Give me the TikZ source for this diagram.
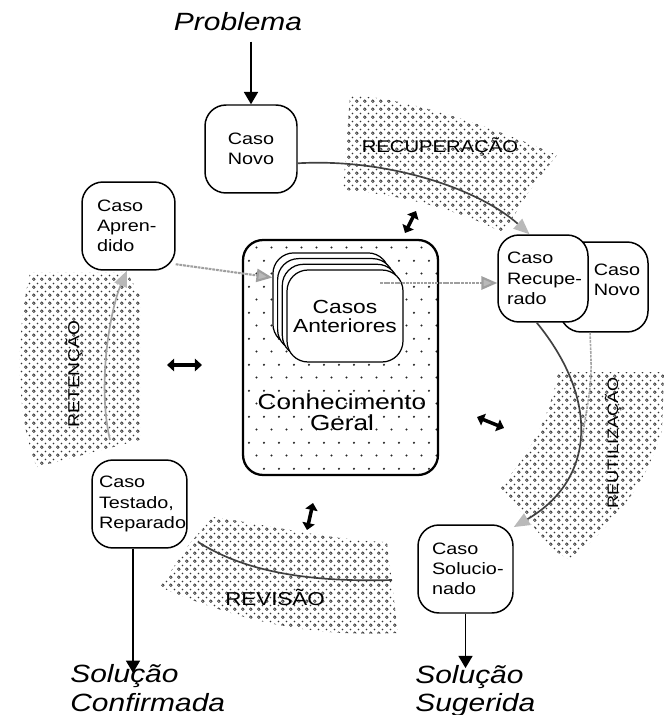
\documentclass[tikz,border=0pt]{standalone}
\usepackage{fontspec}
\setmainfont{Liberation Sans}[FakeStretch=1.2]
\usetikzlibrary{arrows.meta,patterns,patterns.meta}
\tikzdeclarepattern{
  name=bandpat,
  bounding box={(0pt,0pt) and (4.6pt,4.6pt)},
  tile size={(4.6pt,4.6pt)},
  code={
    \draw[line width=0.45pt] (1.15pt,1.15pt) circle (0.8pt);
    \fill (3.45pt,3.45pt) circle (0.55pt);
  }
}
\tikzdeclarepattern{
  name=sparsedots,
  bounding box={(0pt,0pt) and (8.5pt,14.6pt)},
  tile size={(8.5pt,14.6pt)},
  code={
    \fill (2pt,2pt) circle (0.65pt);
    \fill (6.25pt,9.3pt) circle (0.65pt);
  }
}
\begin{document}
\begin{tikzpicture}[x=0.02cm,y=-0.02cm,
  casebox/.style={draw, fill=white, line width=0.85pt, rounded corners=0.42cm,
    font=\fontsize{9.4}{11.5}\selectfont, inner ysep=0pt},
  boxtext/.style={font=\fontsize{9.4}{11.5}\selectfont, align=center, inner sep=0pt},
  stackbox/.style={draw, fill=white, line width=0.7pt, rounded corners=0.42cm,
    minimum width=2.32cm, minimum height=1.84cm, align=center,
    font=\fontsize{10.8}{10.8}\selectfont},
  kbox/.style={draw, line width=1.3pt, rounded corners=0.4cm,
    pattern=sparsedots, pattern color=black!85,
    minimum width=3.9cm, minimum height=4.7cm},
  band/.style={pattern=bandpat, pattern color=black!80},
  graylink/.style={draw=gray!75, line width=1.2pt, dash pattern=on 1.6pt off 0.5pt,
    -{Triangle[length=9pt,width=7.5pt,fill=gray!55]}},
  cycleline/.style={draw=black!75, line width=0.95pt},
  cyclearrow/.style={cycleline, -{Triangle[length=9pt,width=7.5pt,color=gray!55]}},
  outarrow/.style={draw=black, line width=0.9pt, -{Triangle[length=7pt,width=8pt]}},
  klink/.style={draw=black, line width=2pt,
    {Triangle[length=4pt,width=7pt]}-{Triangle[length=4pt,width=7pt]}},
  phase/.style={inner sep=0pt},
  bigital/.style={font=\fontsize{14.2}{16.4}\selectfont\itshape, inner sep=0pt, align=left}
]
\useasboundingbox (0,0) rectangle (664,715);

% shaded bands
\fill[band] (350,95) .. controls (400,98) and (470,118) .. (557,155) -- (530,190) -- (503,233)
  .. controls (470,215) and (410,195) .. (343,190) -- cycle;
\fill[band] (558,372) -- (664,372) -- (662,430) .. controls (650,470) and (630,510) .. (570,560)
  -- (553,550) -- (500,487) .. controls (525,460) and (550,420) .. (558,372) -- cycle;
\fill[band] (213,517) .. controls (270,525) and (330,540) .. (387,542) -- (398,633)
  .. controls (330,636) and (260,630) .. (160,587) -- (190,543) -- cycle;
\fill[band] (30,273) -- (127,273) -- (140,295) -- (140,440) -- (37,467)
  .. controls (20,430) and (12,350) .. (30,273) -- cycle;

% phase labels
\node[phase, font=\fontsize{9.6}{11}\selectfont] (recup) at (440,147) {RECUPERAÇÃO};
\node[phase, font=\fontsize{8.6}{10}\selectfont, rotate=90] (reut) at (613,443) {REUTILIZAÇÃO};
\node[phase, font=\fontsize{9.1}{10}\selectfont, rotate=90] (ret) at (74,374) {RETENÇÃO};
\node[phase, font=\fontsize{10.6}{12}\selectfont] (rev) at (275,597) {REVISÃO};

% central knowledge box
\node[kbox] (geral) at (340.5,357.5) {};
\foreach \k in {3,2,1} {
  \node[stackbox] (ca\k) at ({345-4.7*\k},{316-5.7*\k}) {};
}
\node[stackbox] (ca0) at (345,316) {Casos\\Anteriores};
\node[font=\fontsize{12.4}{12.2}\selectfont, align=center, inner sep=0pt] (geraltxt) at (342,412) {Conhecimento\\Geral};

% case boxes
\node[casebox, minimum width=1.84cm, minimum height=1.76cm, align=center] (novo) at (251,149) {Caso\\Novo};
\node[casebox, minimum width=1.86cm, minimum height=1.76cm, inner xsep=0.3cm, text width=1.26cm, align=left] (apr) at (128.5,226) {Caso\\\mbox{Apren-}\\dido};
\node[casebox, minimum width=1.76cm, minimum height=1.8cm] (novo2) at (604,287) {};
\node[boxtext] (novo2t) at (617,280) {Caso\\Novo};
\node[casebox, minimum width=1.8cm, minimum height=1.74cm, inner xsep=0.18cm, text width=1.44cm, align=left] (rec) at (543,278.5) {Caso\\\mbox{Recupe-}\\rado};
\node[casebox, minimum width=1.9cm, minimum height=1.76cm, inner xsep=0.14cm, text width=1.62cm, align=left] (test) at (139.5,504) {Caso\\\mbox{Testado,}\\\mbox{Reparado}};
\node[casebox, minimum width=1.9cm, minimum height=1.76cm, inner xsep=0.28cm, text width=1.34cm, align=left] (sol) at (465.5,569) {Caso\\\mbox{Solucio-}\\nado};

% outside texts
\node[font=\fontsize{14.2}{16.4}\selectfont\itshape, inner sep=0pt] (prob) at (238,22) {Problema};
\node[bigital, anchor=west] (conf) at (70,688) {Solução\\Confirmada};
\node[bigital, anchor=west] (sug) at (415,691) {Solução\\Sugerida};

% outer arrows
\draw[outarrow] (prob.south -| novo.north) ++(0,10) -- (novo.north);
\coordinate (ta) at ([xshift=-0.13cm]test.south);
\draw[outarrow] (ta) -- ([yshift=-5pt]ta |- conf.north);
\draw[outarrow] (sol.south) -- ([yshift=-2pt]sol.south |- sug.north);

% links to and from previous cases
\draw[graylink] (apr.-39) -- (ca3.160);
\coordinate (cstart) at (380,283);
\draw[graylink] (cstart) -- (cstart -| rec.west);

% cycle
\draw[cyclearrow] (novo.-17) .. controls (390,158) and (480,190) .. (rec.107);
\draw[cyclearrow] (rec.-98) .. controls (600,400) and (595,480) .. (sol.41);
\coordinate (merge) at (582,438);
\draw[draw=gray!70, line width=0.9pt, dash pattern=on 1.5pt off 0.6pt] (novo2.-107) .. controls (592,380) .. (merge);
\coordinate (rv1) at (392,580);
\coordinate (rv2) at (198,542);
\draw[cycleline] (rv1) .. controls (320,582) and (250,575) .. (rv2);
\coordinate (rt) at (110,440);
\draw[cyclearrow, draw=gray!70] (rt) .. controls (97,385) and (110,310) .. (apr.-92);

% knowledge links
\coordinate (k1a) at (416,211); \coordinate (k1b) at (405,233);
\draw[klink] (k1a) -- (k1b);
\coordinate (k2a) at (167,365); \coordinate (k2b) at (202,365);
\draw[klink] (k2a) -- (k2b);
\coordinate (k3a) at (477,417); \coordinate (k3b) at (504,428);
\draw[klink] (k3a) -- (k3b);
\coordinate (k4a) at (313,503); \coordinate (k4b) at (307,530);
\draw[klink] (k4a) -- (k4b);
\end{tikzpicture}
\end{document}
